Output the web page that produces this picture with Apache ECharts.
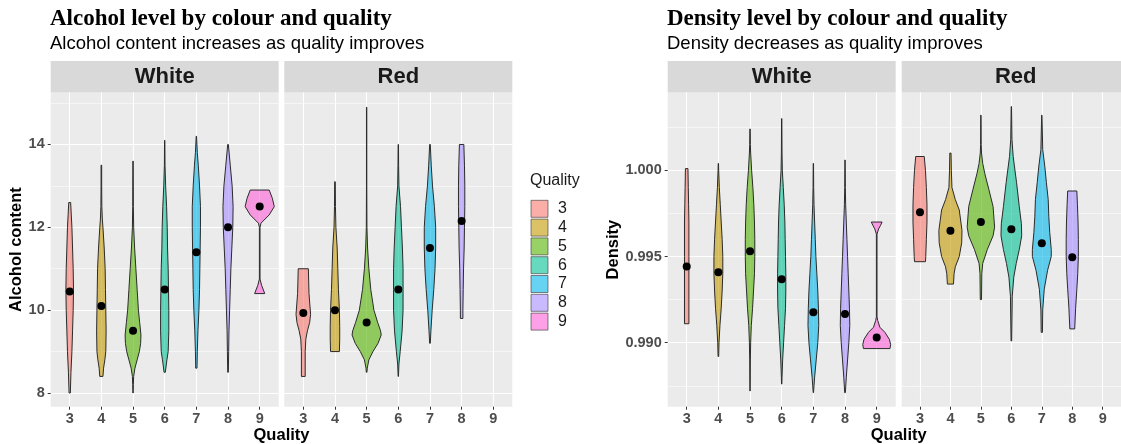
<!DOCTYPE html>
<html>
<head>
<meta charset="utf-8">
<script src="https://cdn.jsdelivr.net/npm/echarts@6/dist/echarts.min.js"></script>
<style>
  html, body { margin: 0; padding: 0; background: #fff; }
  #chart { width: 1121px; height: 444px; }
</style>
</head>
<body>
<div id="chart"></div>
<script>
// qualities shown on the x axis / legend
const qualities = ['3', '4', '5', '6', '7', '8', '9']

// violin outlines, top to bottom: [value, half width in category units]
const alcoholWhite = [
  [[12.6, 0.03], [12.3, 0.05], [12, 0.07], [11.5, 0.09], [11, 0.11], [10.5, 0.12], [10, 0.11], [9.5, 0.09], [9, 0.07], [8.5, 0.04], [8, 0.02]],
  [[13.5, 0.01], [13, 0.01], [12.5, 0.015], [12.2, 0.03], [12, 0.05], [11.5, 0.09], [11, 0.12], [10.5, 0.13], [10, 0.14], [9.5, 0.15], [9, 0.14], [8.8, 0.11], [8.6, 0.07], [8.4, 0.05]],
  [[13.6, 0.005], [13, 0.008], [12.5, 0.01], [12, 0.02], [11.5, 0.05], [11, 0.09], [10.5, 0.13], [10, 0.17], [9.7, 0.21], [9.4, 0.25], [9.2, 0.24], [9, 0.2], [8.8, 0.13], [8.6, 0.06], [8.4, 0.02], [8.2, 0.01], [8, 0.005]],
  [[14.1, 0.005], [13.5, 0.01], [13, 0.03], [12.5, 0.06], [12, 0.08], [11.5, 0.09], [11, 0.11], [10.5, 0.12], [10, 0.13], [9.5, 0.13], [9, 0.11], [8.8, 0.07], [8.5, 0.02]],
  [[14.2, 0.005], [13.8, 0.03], [13.5, 0.06], [13, 0.1], [12.5, 0.13], [12, 0.13], [11.5, 0.12], [11, 0.11], [10.5, 0.1], [10, 0.08], [9.5, 0.05], [9, 0.03], [8.6, 0.02]],
  [[14, 0.01], [13.5, 0.07], [13, 0.13], [12.5, 0.16], [12, 0.15], [11.5, 0.12], [11, 0.09], [10.5, 0.07], [10, 0.05], [9.5, 0.03], [9, 0.02], [8.5, 0.01]],
  [[12.9, 0.3], [12.7, 0.4], [12.5, 0.46], [12.3, 0.3], [12.1, 0.04], [12, 0.01], [10.75, 0.01], [10.6, 0.06], [10.4, 0.16]]
]
const alcoholRed = [
  [[11, 0.16], [10.7, 0.17], [10.4, 0.18], [10.1, 0.21], [9.9, 0.23], [9.7, 0.2], [9.5, 0.13], [9.3, 0.08], [9, 0.06], [8.7, 0.06], [8.4, 0.06]],
  [[13.1, 0.01], [12.5, 0.015], [12, 0.03], [11.5, 0.07], [11, 0.09], [10.5, 0.11], [10, 0.14], [9.6, 0.15], [9.3, 0.15], [9, 0.14]],
  [[14.9, 0.005], [13, 0.005], [12, 0.01], [11.5, 0.03], [11, 0.07], [10.5, 0.13], [10, 0.23], [9.7, 0.35], [9.5, 0.44], [9.4, 0.46], [9.2, 0.36], [9, 0.2], [8.8, 0.07], [8.6, 0.02], [8.5, 0.01]],
  [[14, 0.005], [13.5, 0.01], [13, 0.02], [12.5, 0.07], [12, 0.1], [11.5, 0.13], [11, 0.15], [10.5, 0.15], [10, 0.15], [9.5, 0.12], [9, 0.06], [8.7, 0.02], [8.4, 0.005]],
  [[14, 0.01], [13.5, 0.04], [13, 0.08], [12.5, 0.14], [12, 0.18], [11.5, 0.18], [11, 0.16], [10.5, 0.12], [10, 0.07], [9.5, 0.03], [9.2, 0.01]],
  [[14, 0.07], [13.5, 0.09], [13, 0.1], [12.5, 0.1], [12, 0.09], [11.5, 0.08], [11, 0.06], [10.5, 0.05], [10, 0.04], [9.8, 0.04]],
  null
]
const densityWhite = [
  [[1.0001, 0.04], [0.999, 0.05], [0.998, 0.06], [0.997, 0.07], [0.995, 0.07], [0.993, 0.07], [0.9911, 0.07]],
  [[1.0004, 0.005], [1.0, 0.01], [0.999, 0.03], [0.998, 0.06], [0.997, 0.09], [0.996, 0.12], [0.995, 0.14], [0.994, 0.14], [0.993, 0.12], [0.992, 0.09], [0.991, 0.05], [0.99, 0.02], [0.9892, 0.01]],
  [[1.0024, 0.005], [1.0015, 0.01], [1.001, 0.02], [1.0, 0.05], [0.999, 0.09], [0.998, 0.12], [0.997, 0.14], [0.996, 0.15], [0.995, 0.15], [0.994, 0.14], [0.993, 0.11], [0.992, 0.08], [0.991, 0.04], [0.99, 0.02], [0.989, 0.01], [0.9872, 0.005]],
  [[1.003, 0.005], [1.001, 0.01], [1.0, 0.02], [0.999, 0.05], [0.998, 0.08], [0.997, 0.1], [0.996, 0.11], [0.995, 0.12], [0.994, 0.13], [0.993, 0.13], [0.992, 0.12], [0.991, 0.09], [0.99, 0.06], [0.989, 0.03], [0.988, 0.01], [0.9876, 0.005]],
  [[1.0004, 0.005], [0.999, 0.01], [0.998, 0.02], [0.997, 0.04], [0.996, 0.06], [0.995, 0.08], [0.994, 0.11], [0.993, 0.14], [0.992, 0.16], [0.991, 0.17], [0.99, 0.14], [0.989, 0.09], [0.988, 0.04], [0.9875, 0.02], [0.9871, 0.005]],
  [[1.0006, 0.005], [0.999, 0.01], [0.998, 0.02], [0.997, 0.04], [0.996, 0.06], [0.995, 0.08], [0.994, 0.1], [0.993, 0.12], [0.992, 0.14], [0.991, 0.15], [0.99, 0.12], [0.989, 0.08], [0.988, 0.04], [0.9871, 0.01]],
  [[0.997, 0.17], [0.9968, 0.12], [0.9966, 0.06], [0.9963, 0.01], [0.9915, 0.01], [0.9913, 0.03], [0.9909, 0.1], [0.9906, 0.26], [0.9902, 0.4], [0.9899, 0.44], [0.98966, 0.42]]
]
const densityRed = [
  [[1.0008, 0.14], [1.0, 0.18], [0.999, 0.21], [0.998, 0.23], [0.997, 0.23], [0.996, 0.21], [0.995, 0.19], [0.9947, 0.18]],
  [[1.001, 0.02], [1.0, 0.03], [0.999, 0.05], [0.9983, 0.16], [0.9977, 0.29], [0.9965, 0.38], [0.9958, 0.37], [0.995, 0.29], [0.9944, 0.16], [0.994, 0.12], [0.9934, 0.1]],
  [[1.0032, 0.005], [1.0015, 0.01], [1.001, 0.02], [1.0004, 0.06], [0.9998, 0.13], [0.9989, 0.26], [0.9979, 0.4], [0.9967, 0.45], [0.9962, 0.4], [0.9954, 0.21], [0.9946, 0.06], [0.994, 0.03], [0.9925, 0.02]],
  [[1.0037, 0.005], [1.0018, 0.02], [1.0008, 0.06], [0.9993, 0.17], [0.9979, 0.26], [0.9969, 0.33], [0.9962, 0.34], [0.9954, 0.26], [0.9946, 0.16], [0.9938, 0.08], [0.9927, 0.03], [0.9901, 0.01]],
  [[1.0032, 0.005], [1.0012, 0.03], [1.0002, 0.1], [0.9993, 0.15], [0.9983, 0.21], [0.9973, 0.23], [0.9964, 0.26], [0.9954, 0.31], [0.995, 0.31], [0.9942, 0.19], [0.9931, 0.08], [0.9919, 0.03], [0.9906, 0.02]],
  [[0.9988, 0.15], [0.998, 0.17], [0.997, 0.19], [0.996, 0.2], [0.995, 0.2], [0.994, 0.18], [0.9931, 0.15], [0.992, 0.11], [0.9912, 0.09], [0.9908, 0.08]],
  null
]

// medians (black dots)
const alcoholWhiteMedian = [10.45, 10.1, 9.5, 10.5, 11.4, 12.0, 12.5]
const alcoholRedMedian = [9.93, 10.0, 9.7, 10.5, 11.5, 12.15, null]
const densityWhiteMedian = [0.99442, 0.99409, 0.99531, 0.99368, 0.99177, 0.99166, 0.9903]
const densityRedMedian = [0.99757, 0.9965, 0.997, 0.99658, 0.99577, 0.99496, null]

// tick labels
const alcoholTicks = [8, 10, 12, 14]
const alcoholMinor = [9, 11, 13, 15]
const densityTicks = [0.990, 0.995, 1.000]
const densityMinor = [0.9875, 0.9925, 0.9975, 1.0025]

const hues = ['#F8766D', '#C49A00', '#53B400', '#00C094', '#00B6EB', '#A58AFF', '#FB61D7']
const fills = hues.map(h => {
  const n = parseInt(h.slice(1), 16)
  return `rgba(${n >> 16},${(n >> 8) & 255},${n & 255},0.6)`
})

const SANS = 'Liberation Sans, Arial, sans-serif'
const PANEL_TOP = 92.5
const PANEL_H = 314.2

const panels = [
  { left: 50.7, width: 228, strip: 'White', profiles: alcoholWhite, medians: alcoholWhiteMedian, min: 7.669, max: 15.255, ticks: alcoholTicks, minor: alcoholMinor, label: true, name: 'Alcohol content', gap: 26, digits: 0 },
  { left: 284.3, width: 228, strip: 'Red', profiles: alcoholRed, medians: alcoholRedMedian, min: 7.669, max: 15.255, ticks: alcoholTicks, minor: alcoholMinor, label: false },
  { left: 667.7, width: 228, strip: 'White', profiles: densityWhite, medians: densityWhiteMedian, min: 0.986288, max: 1.004513, ticks: densityTicks, minor: densityMinor, label: true, name: 'Density', gap: 46, digits: 3 },
  { left: 901.7, width: 228, strip: 'Red', profiles: densityRed, medians: densityRedMedian, min: 0.986288, max: 1.004513, ticks: densityTicks, minor: densityMinor, label: false }
]

const qValues = qualities.map(Number)

const grid = panels.map(p => ({
  left: p.left, top: PANEL_TOP, width: p.width, height: PANEL_H,
  show: true, backgroundColor: '#EBEBEB', borderWidth: 0
}))

const tickFont = { fontFamily: SANS, fontSize: 14.5, fontWeight: 'bold', color: '#4D4D4D' }

const xAxis = panels.map((p, i) => ({
  type: 'value', gridIndex: i, min: 2.4, max: 9.6,
  axisLine: { show: false },
  axisTick: { show: true, customValues: qValues, length: 3, lineStyle: { color: '#333', width: 1 } },
  axisLabel: { customValues: qValues, margin: 5, ...tickFont },
  splitLine: { show: true, lineStyle: { color: '#fff', width: 1.1 } }
}))

const yAxis = []
panels.forEach((p, i) => {
  yAxis.push({
    type: 'value', gridIndex: i, min: p.min, max: p.max,
    name: p.label ? p.name : '',
    nameLocation: 'middle', nameGap: p.gap || 0,
    nameTextStyle: { fontFamily: SANS, fontSize: 16.5, fontWeight: 'bold', color: '#000' },
    axisLine: { show: false },
    axisTick: { show: p.label, customValues: p.ticks, length: 3, lineStyle: { color: '#333', width: 1 } },
    axisLabel: {
      show: p.label, customValues: p.ticks, margin: 6, ...tickFont,
      formatter: v => Number(v).toFixed(p.digits || 0)
    },
    splitLine: { show: true, lineStyle: { color: '#fff', width: 1.1 } }
  })
  // minor grid lines
  yAxis.push({
    type: 'value', gridIndex: i, min: p.min, max: p.max,
    axisLine: { show: false },
    axisTick: { show: false, customValues: p.minor },
    axisLabel: { show: false, customValues: p.minor },
    splitLine: { show: true, lineStyle: { color: '#fff', width: 0.55 } }
  })
})

const series = []
panels.forEach((p, pi) => {
  p.profiles.forEach((prof, qi) => {
    if (!prof) return
    series.push({
      type: 'custom',
      name: qualities[qi],
      xAxisIndex: pi,
      yAxisIndex: pi * 2,
      silent: true,
      itemStyle: { color: fills[qi] },
      data: [[qValues[qi], p.medians[qi]]],
      renderItem: (params, api) => {
        const bw = api.size([1, 0])[0]
        const q = api.value(0)
        const leftSide = []
        const rightSide = []
        prof.forEach(([v, w]) => {
          const c = api.coord([q, v])
          leftSide.push([c[0] - w * bw, c[1]])
          rightSide.push([c[0] + w * bw, c[1]])
        })
        return {
          type: 'polygon',
          shape: { points: leftSide.concat(rightSide.reverse()) },
          style: { fill: fills[qi], stroke: '#2b2b2b', lineWidth: 1 }
        }
      }
    })
  })
  series.push({
    type: 'scatter',
    xAxisIndex: pi,
    yAxisIndex: pi * 2,
    silent: true,
    symbolSize: 8,
    itemStyle: { color: '#000', opacity: 1 },
    z: 5,
    data: p.medians.map((m, qi) => (m == null ? null : [qValues[qi], m])).filter(d => d)
  })
})

const graphic = []
panels.forEach(p => {
  graphic.push({
    type: 'rect', left: p.left, top: 61, silent: true,
    shape: { width: p.width, height: PANEL_TOP - 61 },
    style: { fill: '#D9D9D9' }
  })
  graphic.push({
    type: 'text', x: p.left + p.width / 2, y: 77, silent: true,
    style: { text: p.strip, fill: '#1A1A1A', font: `bold 22px ${SANS}`, textAlign: 'center', textVerticalAlign: 'middle' }
  })
})
;[[panels[0], panels[1]], [panels[2], panels[3]]].forEach(([a, b]) => {
  graphic.push({
    type: 'text', x: (a.left + b.left + b.width) / 2, y: 435, silent: true,
    style: { text: 'Quality', fill: '#000', font: `bold 16.5px ${SANS}`, textAlign: 'center', textVerticalAlign: 'middle' }
  })
})

const titleStyle = { fontFamily: 'Liberation Serif, Times New Roman, serif', fontWeight: 'bold', fontSize: 23, color: '#000' }
const subStyle = { fontFamily: SANS, fontWeight: 'normal', fontSize: 18.5, color: '#000' }

const option = {
  animation: false,
  title: [
    { text: 'Alcohol level by colour and quality', left: 50, top: 8, padding: 0, textStyle: titleStyle },
    { text: 'Alcohol content increases as quality improves', left: 50, top: 34, padding: 0, textStyle: subStyle },
    { text: 'Density level by colour and quality', left: 667, top: 8, padding: 0, textStyle: titleStyle },
    { text: 'Density decreases as quality improves', left: 667, top: 34, padding: 0, textStyle: subStyle },
    { text: 'Quality', left: 530, top: 173, padding: 0, textStyle: { fontFamily: SANS, fontWeight: 'normal', fontSize: 16, color: '#1A1A1A' } }
  ],
  legend: {
    data: qualities,
    orient: 'vertical',
    left: 530.7, top: 200,
    padding: 0,
    icon: 'rect',
    itemWidth: 17, itemHeight: 17, itemGap: 1.2,
    selectedMode: false,
    itemStyle: { borderColor: '#333', borderWidth: 0.6 },
    textStyle: { fontFamily: SANS, fontSize: 16, color: '#1A1A1A', lineHeight: 17, padding: [0, 0, 0, 5] }
  },
  grid,
  xAxis,
  yAxis,
  series,
  graphic
}

const chart = echarts.init(document.getElementById('chart'))
chart.setOption(option)
</script>
</body>
</html>
